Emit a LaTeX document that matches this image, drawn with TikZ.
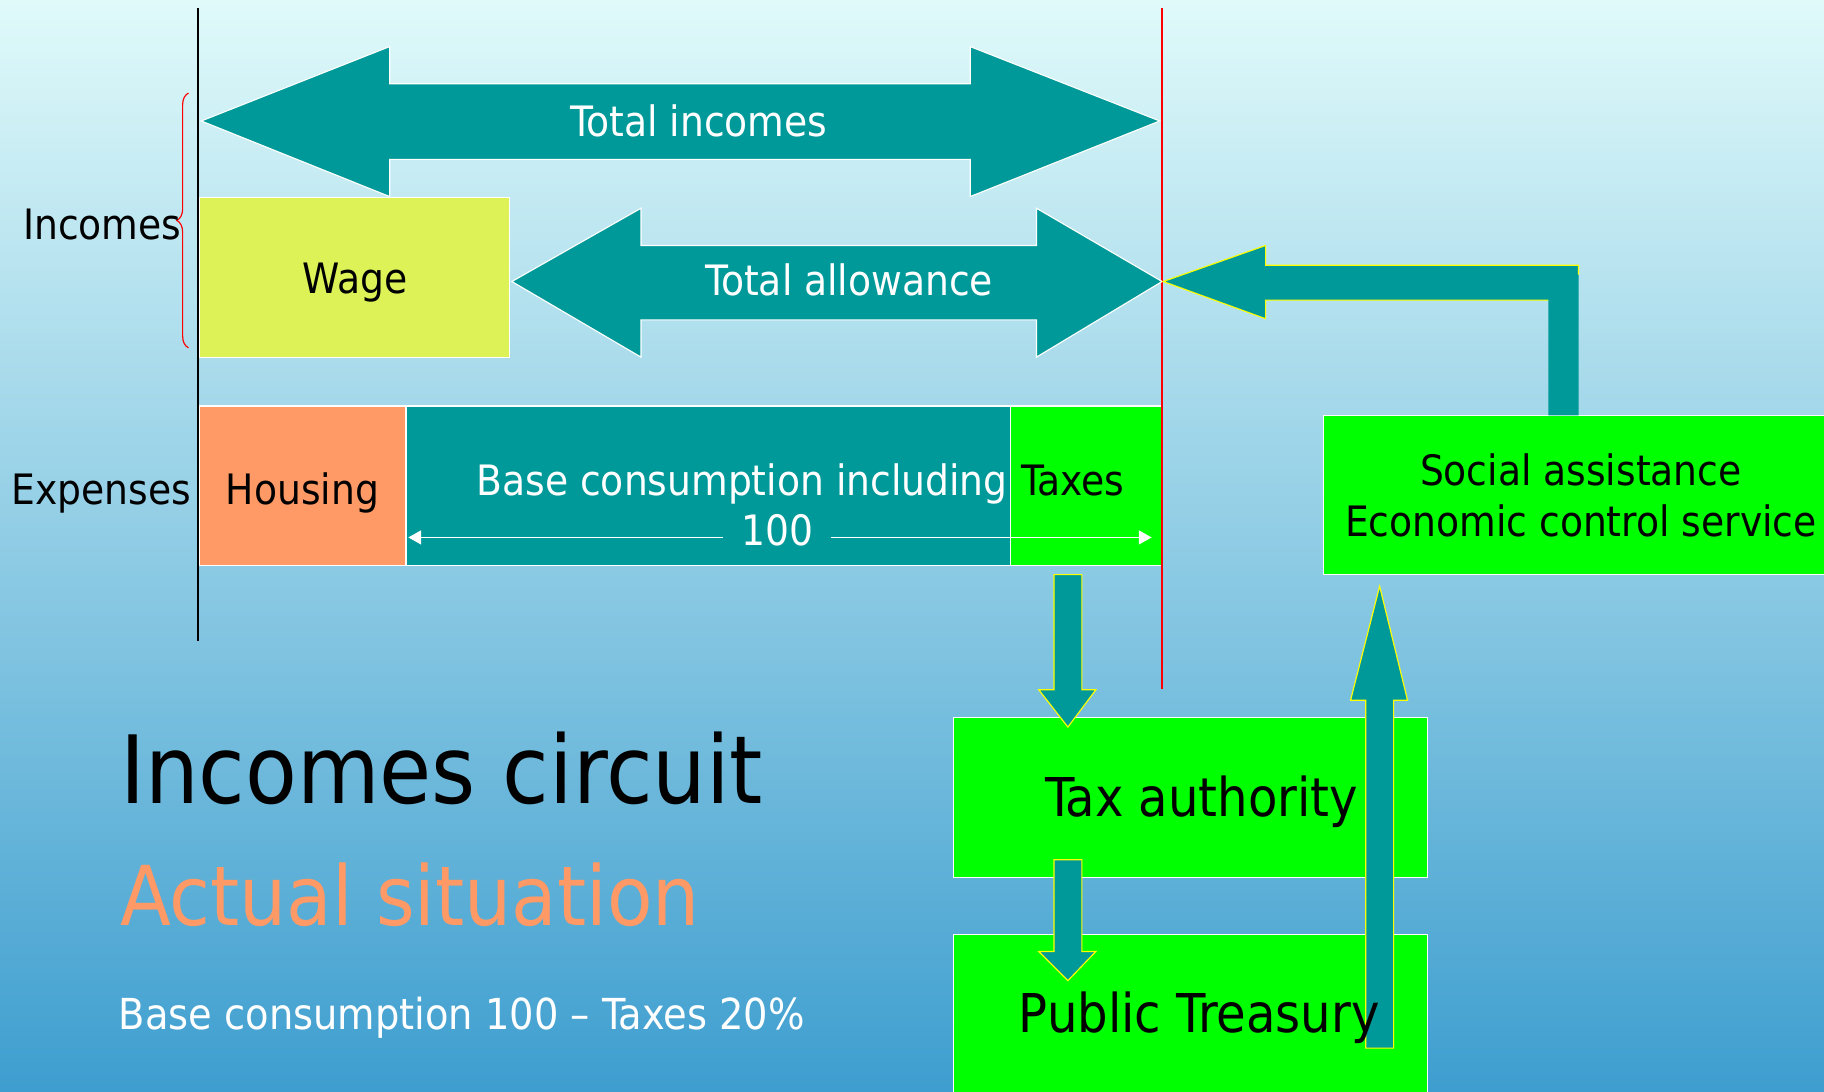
\documentclass[tikz,border=0pt]{standalone}
\usepackage{fontspec}
\setmainfont{DejaVu Sans Condensed}
\usetikzlibrary{arrows.meta,decorations.pathreplacing}
\definecolor{tealbar}{RGB}{0,153,153}
\definecolor{wagecol}{RGB}{221,242,87}
\definecolor{housecol}{RGB}{255,153,102}
\definecolor{boxgreen}{RGB}{0,255,0}
\definecolor{edgeyellow}{RGB}{255,255,0}
\definecolor{bgtop}{RGB}{224,250,250}
\definecolor{bgmid}{RGB}{168,214,232}
\definecolor{bgbot}{RGB}{62,158,207}

\begin{document}
\begin{tikzpicture}[x=1pt,y=1pt,yscale=-1,
    block/.style={fill=tealbar, draw=white, line width=1pt},
    flow/.style={fill=tealbar, draw=edgeyellow, line width=1pt},
    cell/.style={draw=white, line width=1pt, inner sep=0pt, minimum height=137pt},
    lbl/.style={inner sep=0pt, anchor=base, font=\fontsize{36}{44}\selectfont},
    dimtip/.style={white, line width=1.2pt, -{Triangle[length=11pt,width=12pt]}}]

    %Background
    \shade[top color=bgtop, middle color=bgmid, bottom color=bgbot] (0,0) rectangle (1568,938);
    \useasboundingbox (0,0) rectangle (1568,938);

    %Shape: boxes
    \node[cell, fill=wagecol, minimum width=267pt] (wage) at (304.5,238.5) {};
    \node[cell, fill=housecol, minimum width=178pt] (housing) at (260,417.5) {};
    \node[cell, fill=tealbar, minimum width=520pt] (basecons) at (609,417.5) {};
    \node[cell, fill=boxgreen, minimum width=130pt] (taxes) at (934,417.5) {};
    \node[cell, fill=boxgreen, minimum width=462pt] (social) at (1369,425.5) {};
    \node[cell, fill=boxgreen, minimum width=407pt] (taxauth) at (1023.5,685.5) {};
    \node[cell, fill=boxgreen, minimum width=407pt, minimum height=157pt] (treasury) at (1023.5,881.5) {};

    %Axis lines
    \draw[black, line width=1.4pt] (170,7) -- (170,551);
    \draw[red, line width=1.2pt] (999,7) -- (999,592);
    %Brace
    \draw[red, line width=1pt, decorate, decoration={brace, amplitude=10pt}] (162,299) -- (162,80);

    %Double arrows
    \draw[block] (173,104) -- (335,40) -- (335,72) -- (834,72) -- (834,40) -- (997,104) -- (834,169) -- (834,137) -- (335,137) -- (335,169) -- cycle;
    \draw[block] (440,242) -- (551,179) -- (551,211) -- (891,211) -- (891,179) -- (999,242) -- (891,307) -- (891,275) -- (551,275) -- (551,307) -- cycle;

    %Bent arrow from social assistance
    \fill[tealbar] (1000,242) -- (1088,211) -- (1088,228) -- (1357,228) -- (1357,357) -- (1331,357) -- (1331,258) -- (1088,258) -- (1088,274) -- cycle;
    \draw[edgeyellow, line width=1pt] (1331,258) -- (1088,258) -- (1088,274) -- (1000,242) -- (1088,211) -- (1088,228) -- (1357,228) -- (1357,236);

    %Flow arrows
    \draw[flow] (906,494) -- (930,494) -- (930,593) -- (942,593) -- (918,625) -- (893,593) -- (906,593) -- cycle;
    \draw[flow] (906,739) -- (930,739) -- (930,818) -- (942,818) -- (918,843) -- (893,818) -- (906,818) -- cycle;
    \draw[flow] (1174,901) -- (1198,901) -- (1198,602) -- (1210,602) -- (1186,504) -- (1161,602) -- (1174,602) -- cycle;

    % Text Node
    \node[lbl, text=white] (totinc) at (601,117) {Total incomes};
    \node[lbl, text=white] (totallow) at (730,254) {Total allowance};
    \node[lbl] (incomes) at (88,206) {Incomes};
    \node[lbl] (expenses) at (87,434) {Expenses};
    \node[lbl] (wagetext) at (305,252) {Wage};
    \node[lbl] (housingtext) at (260,434) {Housing};
    \node[lbl, text=white] (basetext) at (638,426) {Base consumption including};
    \node[lbl] (taxestext) at (922,426) {Taxes};
    \node[lbl, align=center] (socialtext) at (1359,461) {Social assistance\\Economic control service};
    \node[lbl, font=\fontsize{46}{55}\selectfont] (taxauthtext) at (1033,702) {Tax authority};
    \node[lbl, font=\fontsize{46}{55}\selectfont] (treasurytext) at (1031,888) {Public Treasury};

    %Dimension 100
    \coordinate (lefttip) at (351,462);
    \coordinate (righttip) at (990,462);
    \node[lbl, text=white, inner xsep=15pt] (hundred) at (668,469) {100};
    \draw[dimtip] (hundred.west |- lefttip) -- (lefttip);
    \draw[dimtip] (hundred.east |- righttip) -- (righttip);

    % Text Node
    \node[lbl, anchor=base west, font=\fontsize{81}{97}\selectfont] (title) at (103,691) {Incomes circuit};
    \node[lbl, anchor=base west, text=housecol, font=\fontsize{71}{85}\selectfont] (subtitle) at (103,796) {Actual situation};
    \node[lbl, anchor=base west, text=white, font=\fontsize{36.7}{44}\selectfont] (note) at (102,885) {Base consumption 100 – Taxes 20\%};

\end{tikzpicture}
\end{document}
